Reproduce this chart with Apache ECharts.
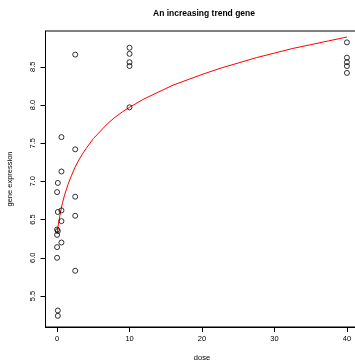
<!DOCTYPE html>
<html>
<head>
<meta charset="utf-8">
<script src="https://cdn.jsdelivr.net/npm/echarts@6/dist/echarts.min.js"></script>
<style>html,body{margin:0;padding:0;background:#fff;}#c{width:355px;height:364px;}</style>
</head>
<body>
<div id="c"></div>
<script>
// observed points
var doses = [0,0,0,0,0, 0.1,0.1,0.1,0.1,0.1, 0.6,0.6,0.6,0.6,0.6, 2.5,2.5,2.5,2.5,2.5, 10,10,10,10,10, 40,40,40,40,40];
var expression = [6.86,6.37,6.30,6.14,6.00, 6.98,6.60,6.35,5.31,5.24, 7.58,7.13,6.62,6.48,6.20, 8.66,7.42,6.80,6.55,5.83, 8.75,8.67,8.56,8.51,7.97, 8.82,8.62,8.56,8.51,8.42];
// fitted trend curve
var curveDose = [0, 0.25, 0.5, 0.75, 1, 1.5, 2, 2.5, 3, 3.5, 4, 5, 6, 7, 8, 9, 10, 12, 14, 16, 18, 20, 22.5, 25, 27.5, 30, 32.5, 35, 37.5, 40];
var curveValue = [6.33, 6.48, 6.61, 6.72, 6.81, 6.96, 7.08, 7.19, 7.28, 7.36, 7.43, 7.56, 7.66, 7.76, 7.84, 7.91, 7.97, 8.08, 8.17, 8.26, 8.33, 8.40, 8.48, 8.55, 8.62, 8.68, 8.74, 8.79, 8.84, 8.89];
// tick labels
var xTicks = [0, 10, 20, 30, 40];
var yTicks = [5.5, 6.0, 6.5, 7.0, 7.5, 8.0, 8.5];

var pts = doses.map(function(d, i){ return [d, expression[i]]; });
var curve = curveDose.map(function(d, i){ return [d, curveValue[i]]; });
var font = 'Liberation Sans, Arial, Helvetica, sans-serif';

var chart = echarts.init(document.getElementById('c'), null, {renderer: 'canvas'});
chart.setOption({
  animation: false,
  backgroundColor: '#fff',
  title: {
    text: 'An increasing trend gene',
    left: 199, top: 4, textAlign: 'center',
    textStyle: {fontFamily: font, fontSize: 8.5, fontWeight: 'bold', color: '#000'}
  },
  grid: {left: 45.5, top: 31, width: 313, height: 296, outerBoundsMode: 'none', containLabel: false,
         show: true, borderColor: '#000', borderWidth: 1, backgroundColor: 'transparent'},
  xAxis: {
    type: 'value', min: -1.6, max: 41.6,
    name: 'dose', nameLocation: 'middle', nameGap: 27,
    nameTextStyle: {fontFamily: font, fontSize: 7.5, color: '#000'},
    axisLine: {show: true, onZero: false, lineStyle: {color: '#000', width: 1}},
    axisTick: {show: true, inside: false, length: 5, customValues: xTicks, lineStyle: {color: '#000'}},
    axisLabel: {show: true, customValues: xTicks, margin: 8, fontFamily: font, fontSize: 7.5, color: '#000', formatter: function(v){ return String(v); }},
    splitLine: {show: false}
  },
  yAxis: {
    type: 'value', min: 5.094, max: 8.969,
    name: 'gene expression', nameLocation: 'middle', nameGap: 32, nameRotate: 90,
    nameTextStyle: {fontFamily: font, fontSize: 7.5, color: '#000'},
    axisLine: {show: true, onZero: false, lineStyle: {color: '#000', width: 1}},
    axisTick: {show: true, inside: false, length: 5, customValues: yTicks, lineStyle: {color: '#000'}},
    axisLabel: {show: true, customValues: yTicks, rotate: 90, margin: 9, fontFamily: font, fontSize: 7.5, color: '#000', formatter: function(v){ return v.toFixed(1); }},
    splitLine: {show: false}
  },
  series: [
    {
      type: 'line', data: curve, smooth: false, showSymbol: false, symbol: 'none',
      lineStyle: {color: '#ff0000', width: 1}, z: 2
    },
    {
      type: 'scatter', data: pts, symbol: 'circle', symbolSize: 5,
      itemStyle: {color: 'transparent', borderColor: '#000', borderWidth: 1}, z: 3
    }
  ]
});
</script>
</body>
</html>
